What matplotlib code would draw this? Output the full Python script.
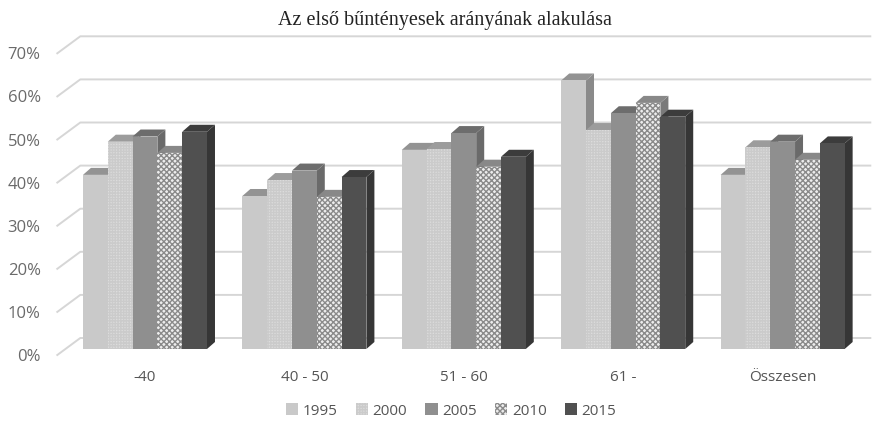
import matplotlib
matplotlib.use("Agg")
import matplotlib.pyplot as plt
from matplotlib.lines import Line2D
from matplotlib.patches import Polygon, Rectangle, Patch
import numpy as np

categories = ["-40", "40 - 50", "51 - 60", "61 -", "Összesen"]
years = ["1995", "2000", "2005", "2010", "2015"]
v1995 = [40.4, 35.5, 46.2, 62.3, 40.4]
v2000 = [48.1, 39.2, 46.4, 50.8, 46.8]
v2005 = [49.3, 41.4, 50.1, 54.7, 48.1]
v2010 = [45.5, 35.3, 42.3, 57.1, 43.9]
v2015 = [50.4, 39.9, 44.6, 53.9, 47.7]
yticks = [0, 10, 20, 30, 40, 50, 60, 70]

series = [v1995, v2000, v2005, v2010, v2015]
# front, top, side, hatch, hatch colour
styles = [
    ("#c9c9c9", "#939393", "#8a8a8a", None, None),
    ("#dcdcdc", "#9c9c9c", "#929292", "++++++", "#cbcbcb"),
    ("#8f8f8f", "#6d6d6d", "#6a6a6a", None, None),
    ("#ededed", "#888888", "#7a7a7a", "xxxxxx", "#8a8a8a"),
    ("#505050", "#3c3c3c", "#363636", None, None),
]

plt.rcParams["hatch.linewidth"] = 1.0

W, H = 872, 430
fig = plt.figure(figsize=(W / 100, H / 100), dpi=100)
fig.patch.set_facecolor("white")

# axes placed in pixels: bar base at 349 px from top, 4.31 px per percent
px_per_pct = 4.31
ymax = 75
ax = fig.add_axes([57.3 / W, (H - 349) / H, 813 / W, ymax * px_per_pct / H])
ax.set_xlim(-0.55, 4.55)
ax.set_ylim(0, ymax)
ax.axis("off")


def shift(xy, dx, dy):
    d = ax.transData.transform(np.atleast_2d(xy)) + np.array([dx, dy])
    return ax.transData.inverted().transform(d)


# gridlines with a slanted left wall
x0, x1 = ax.get_xlim()
for v in yticks:
    front = shift((x0, v), 0, -6)[0]
    back = shift(front, 23, 17)[0]
    ax.add_line(Line2D([front[0], back[0], x1], [front[1], back[1], back[1]],
                       color="#d6d6d6", lw=1.4, zorder=0, clip_on=False))
    ax.annotate(f"{v}%", xy=front, xytext=(-12, -1.5), textcoords="offset points",
                ha="right", va="center", fontsize=12, color="#6a6a6a",
                family="Open Sans", annotation_clip=False)

# 3D-looking bars
n = len(series)
bw = 0.778 / n
x = np.arange(len(categories))
DX, DY = 8, 7
z = 2
for i, vals in enumerate(series):
    front_c, top_c, side_c, hatch, hcol = styles[i]
    for j, v in enumerate(vals):
        left = x[j] - 0.389 + i * bw
        fl = (left, 0)
        fr = (left + bw, 0)
        tl = (left, v)
        tr = (left + bw, v)
        tl2 = shift(tl, DX, DY)[0]
        tr2 = shift(tr, DX, DY)[0]
        br2 = shift(fr, DX, DY)[0]
        side = Polygon([fr, tr, tr2, br2], closed=True, facecolor=side_c,
                       edgecolor="none", zorder=z, clip_on=False)
        top = Polygon([tl, tr, tr2, tl2], closed=True, facecolor=top_c,
                      edgecolor="none", zorder=z, clip_on=False)
        ax.add_patch(side)
        ax.add_patch(top)
        rect = Rectangle(fl, bw, v, facecolor=front_c, zorder=z + 0.5,
                         edgecolor=hcol if hatch else "none", lw=0,
                         hatch=hatch, clip_on=False)
        ax.add_patch(rect)
    z += 1

# category labels
for j, c in enumerate(categories):
    ax.annotate(c, xy=(x[j], 0), xytext=(0, -20.5), textcoords="offset points",
                ha="center", va="center", fontsize=11, color="#555555",
                family="Open Sans", annotation_clip=False)

fig.text(445 / W, 1 - 20 / H, "Az első bűntényesek arányának alakulása",
         ha="center", va="center", fontsize=14.5, family="Liberation Serif",
         color="#222222")

handles = []
for i, y in enumerate(years):
    front_c, top_c, side_c, hatch, hcol = styles[i]
    handles.append(Patch(facecolor=front_c, edgecolor=hcol if hatch else "none",
                         lw=0, hatch=hatch, label=y))
leg = fig.legend(handles=handles, loc="center", ncol=5,
                 bbox_to_anchor=(451 / W, 1 - 411 / H), frameon=False,
                 handlelength=0.8, handleheight=0.8, handletextpad=0.3,
                 columnspacing=1.2, prop={"family": "Open Sans", "size": 11})
for t in leg.get_texts():
    t.set_color("#555555")

fig.savefig("out.png", dpi=100)
